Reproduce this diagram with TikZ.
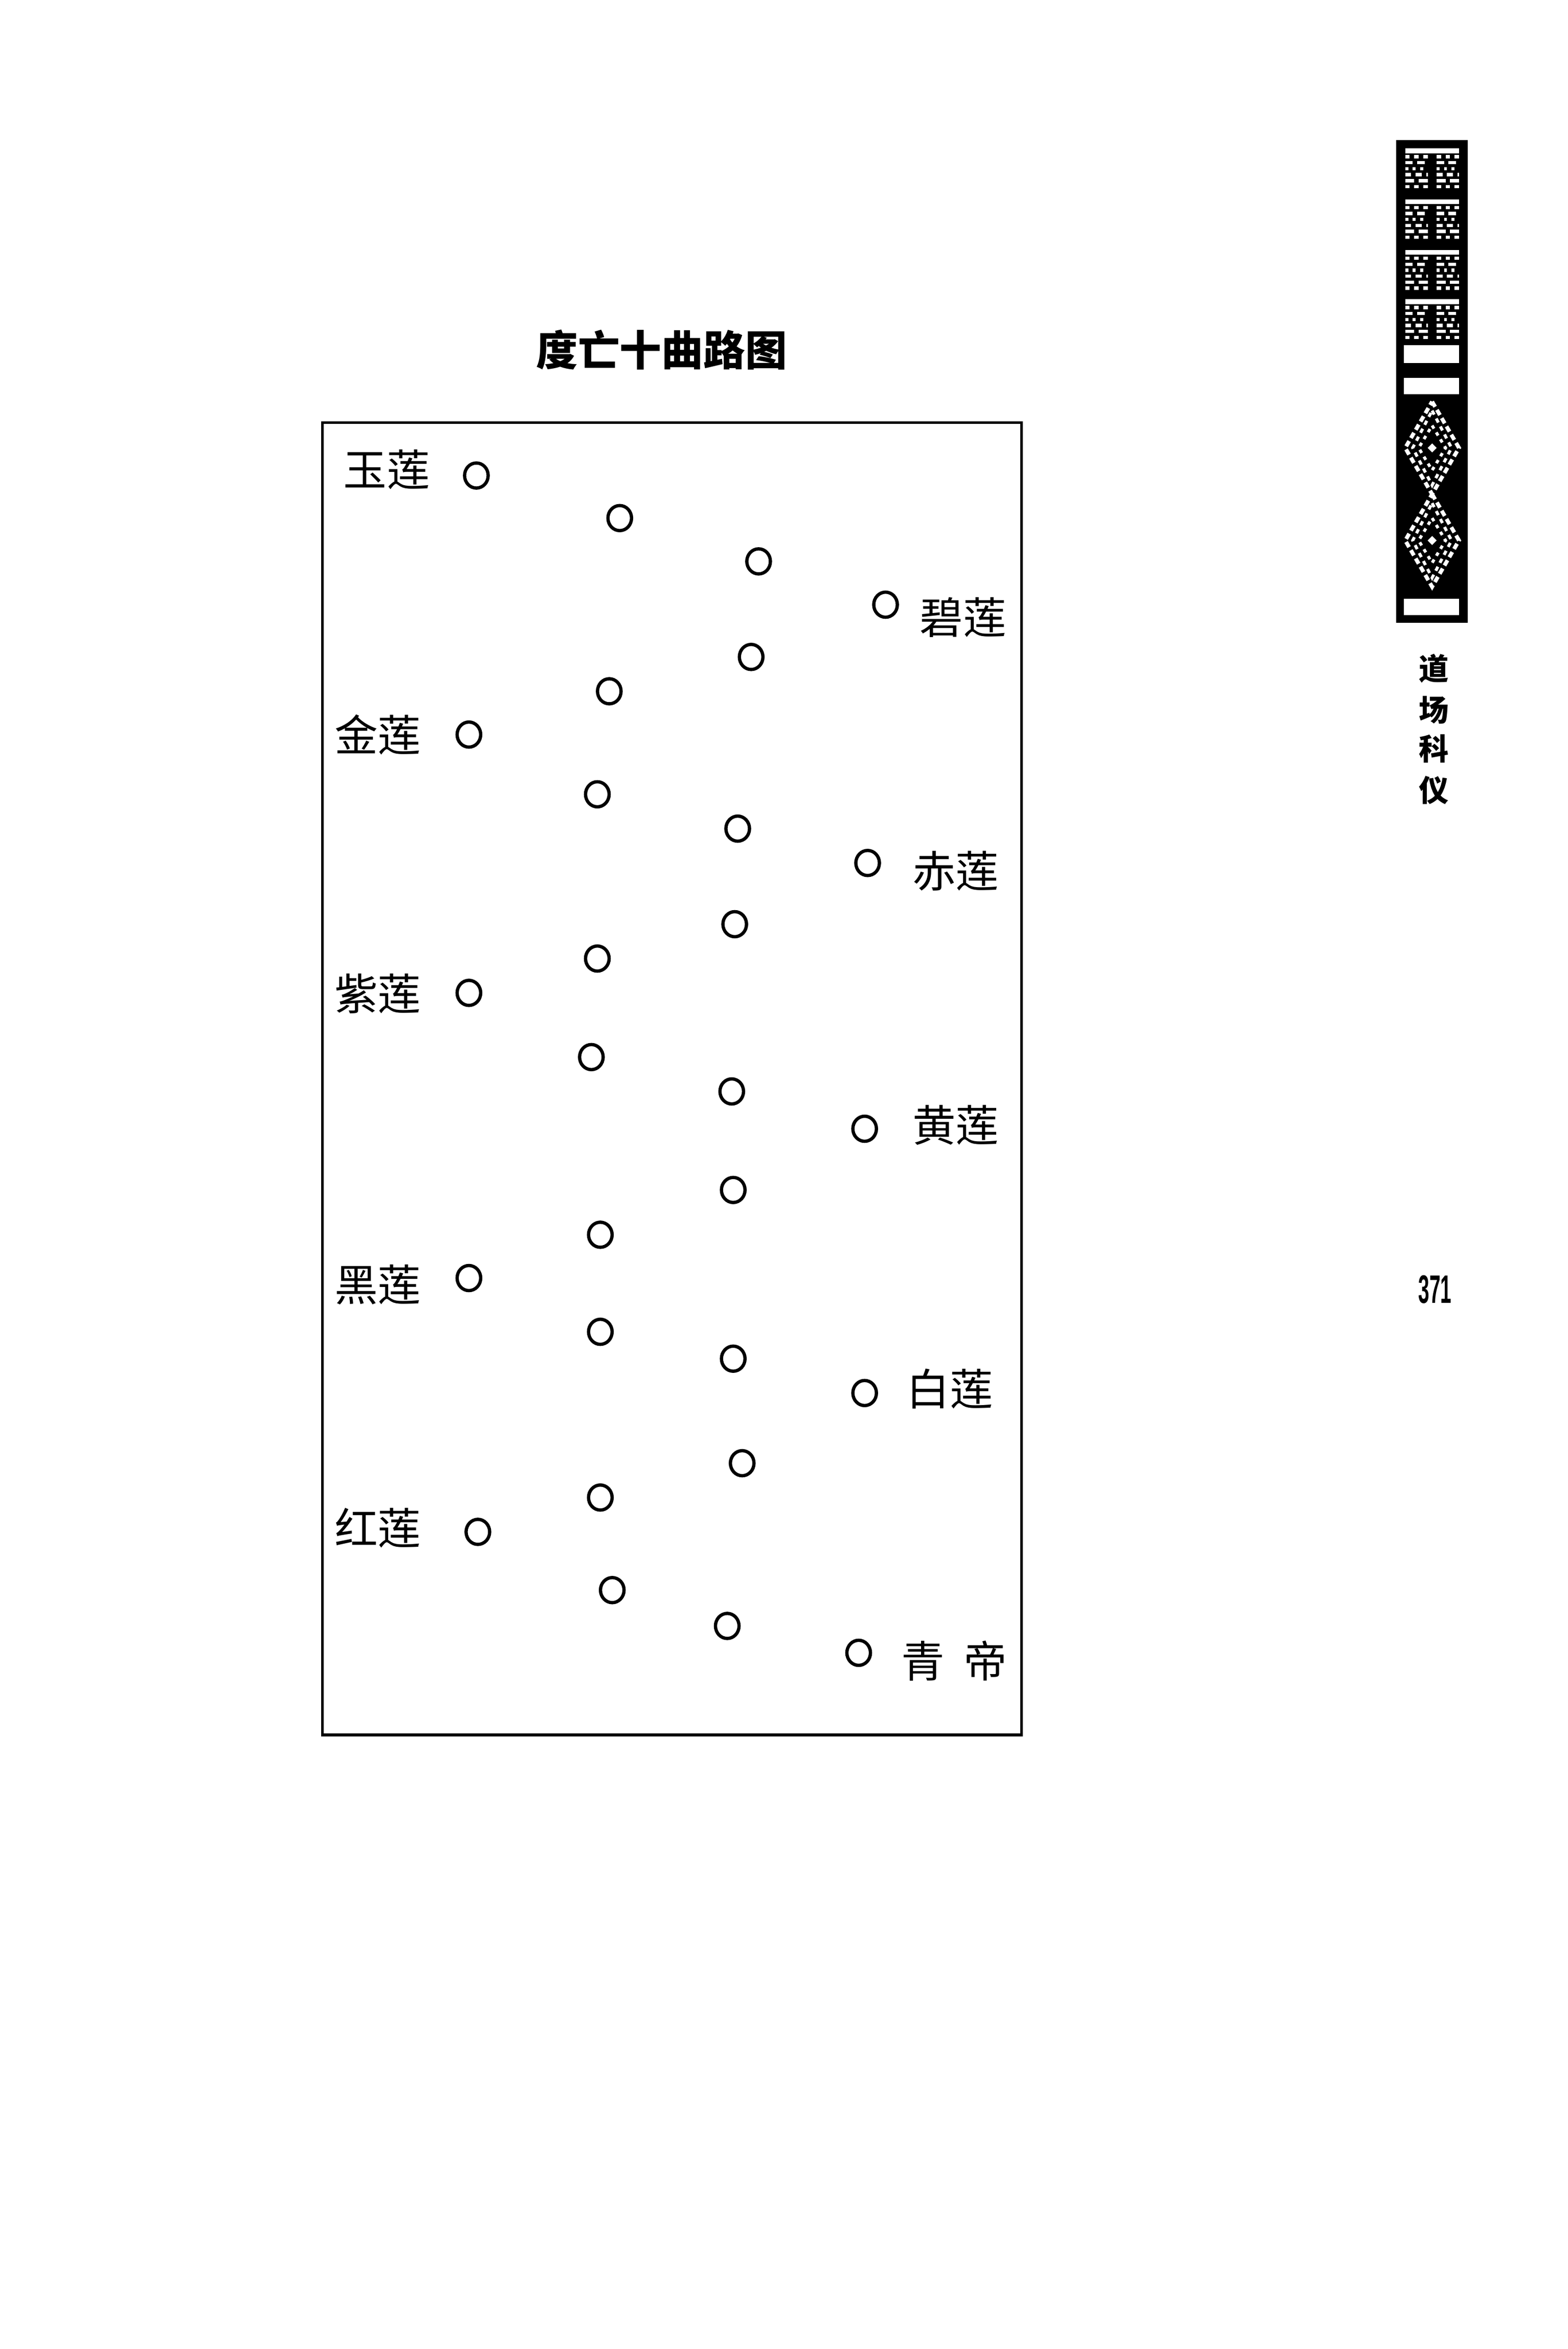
\documentclass[tikz,border=0pt]{standalone}
\usepackage{fontspec}
\newfontfamily\cjk{Noto Sans CJK SC}
\newfontfamily\numfont{Liberation Sans}
\usepackage{tikz}
\usetikzlibrary{shapes.geometric}
\tikzset{
	lotus/.style={draw,ellipse,line width=1.1pt,minimum width=7.9pt,minimum height=8.4pt,inner sep=0pt},
	lianlabel/.style={font=\cjk\fontsize{14.5}{16}\selectfont,inner sep=0pt,text height=11.6pt,text depth=1.2pt},
	sidechar/.style={font=\cjk\bfseries\fontsize{10}{12}\selectfont,inner sep=0pt,text height=8pt,text depth=.8pt}
	}

\begin{document}
\begin{tikzpicture}[x=0.5pt,y=-0.5pt]
	\useasboundingbox (0,0) rectangle (1050,1573.3);
	% title
	\node[font=\cjk\bfseries\fontsize{14}{16}\selectfont,inner sep=0pt,text height=11.2pt,text depth=1.1pt] (title) at (443,235) {度亡十曲路图};
	% frame
	\draw[line width=0.9pt] (216,283) rectangle (684,1162);
	% the ten turnings
	\foreach \n/\x/\y in {1/319/318.5,2/415/347,3/508/376,4/593/405,5/503/440,6/408/463,7/314/492,
		8/400/532,9/494/555,10/581/578,11/492/619,12/400/642,13/314/665,14/396/708,
		15/490/731,16/579/756,17/491/797,18/402/827,19/314/856,20/402/892,21/491/910,
		22/579/933,23/497/980,24/402/1003,25/320/1026,26/410/1065,27/487/1089,28/575/1107}
		\node[lotus] (c\n) at (\x,\y) {};
	\node[lianlabel] (yulian) at (259,315) {玉莲};
	\node[lianlabel] (bilian) at (645,414) {碧莲};
	\node[lianlabel] (jinlian) at (253,493) {金莲};
	\node[lianlabel] (chilian) at (640,584) {赤莲};
	\node[lianlabel] (zilian) at (253,666) {紫莲};
	\node[lianlabel] (huanglian) at (640,754) {黄莲};
	\node[lianlabel] (heilian) at (253,861) {黑莲};
	\node[lianlabel] (bailian) at (636,931) {白莲};
	\node[lianlabel] (honglian) at (253,1024) {红莲};
	\node[lianlabel] (qingdi) at (639,1113) {青\hspace{0.45em}帝};
	% side banner
	\fill[black] (935,94) rectangle (983,417);
	\foreach \t in {100,134,168,201}{
		\draw[white,line width=1.6pt] (941,\t+1) -- (977,\t+1);
		\foreach \r/\d in {5/1.5,9/2.5,13/1,17/2,21/3,25/1.5}
			\draw[white,line width=1.1pt,dash pattern=on \d pt off 1.5pt] (941,\t+\r) -- (956,\t+\r) (962,\t+\r) -- (977,\t+\r);
	}
	\fill[white] (940,231) rectangle (977,243);
	\fill[white] (940,253) rectangle (977,264);
	\fill[white] (940,401) rectangle (977,412);
	\foreach \cy in {300,362}{
		\draw[white,line width=1.3pt,dash pattern=on 2pt off 1.2pt] (959,\cy-31) -- (977,\cy) -- (959,\cy+31) -- (941,\cy) -- cycle;
		\draw[white,line width=1pt,dash pattern=on 1.5pt off 1.5pt] (959,\cy-25) -- (972,\cy) -- (959,\cy+25) -- (946,\cy) -- cycle;
		\draw[white,line width=1pt,dash pattern=on 1.2pt off 1.5pt] (959,\cy-15) -- (968,\cy) -- (959,\cy+15) -- (950,\cy) -- cycle;
		\fill[white] (959,\cy-3) -- (962,\cy) -- (959,\cy+3) -- (956,\cy) -- cycle;
	}
	\foreach \ch/\y [count=\i] in {道/448,场/476,科/502,仪/529.5}
		\node[sidechar] (side\i) at (960,\y) {\ch};
	% page number
	\node[font=\numfont\bfseries\fontsize{13.3}{14}\selectfont,inner sep=0pt] (page) at (961,863.5) {\scalebox{0.5}[1]{371}};
\end{tikzpicture}
\end{document}
